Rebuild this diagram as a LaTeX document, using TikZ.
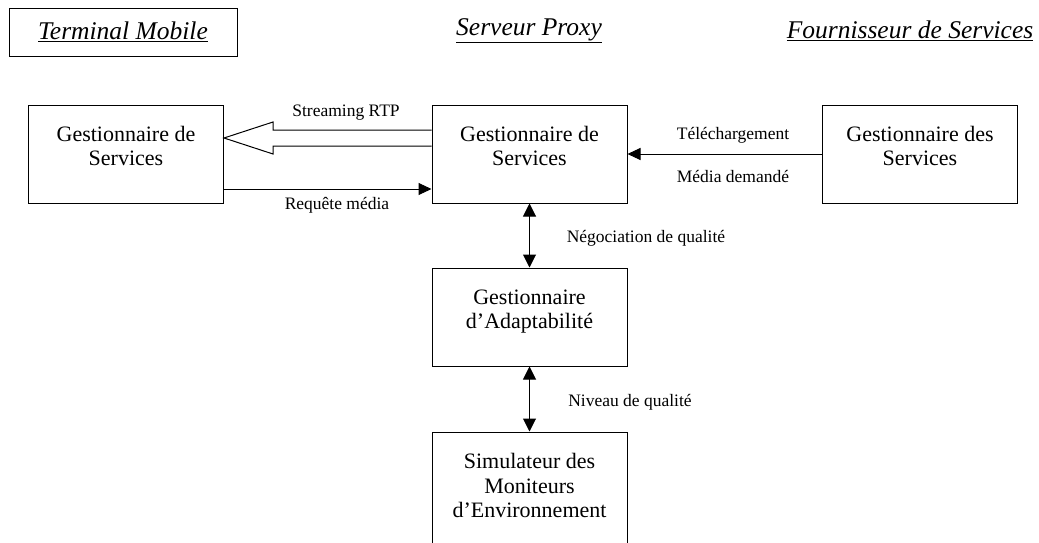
\documentclass[tikz,border=0pt]{standalone}
\usepackage{fontspec}
\setmainfont{Liberation Serif}
\usetikzlibrary{arrows.meta,calc}
\begin{document}
\begin{tikzpicture}[x=1pt,y=-1pt,
  box/.style={draw,line width=1pt,minimum width=195pt,minimum height=98pt,align=center,inner sep=0pt,text depth=16pt,font=\fontsize{22}{24.5}\selectfont},
  hdr/.style={align=center,inner sep=0pt,font=\fontsize{25.5}{30}\selectfont\itshape},
  lbl/.style={inner sep=0pt,font=\fontsize{17.5}{20}\selectfont},
  conn/.style={line width=1pt,-{Triangle[length=13pt,width=12pt]}},
  dconn/.style={line width=1pt,{Triangle[length=13pt,width=13pt]}-{Triangle[length=13pt,width=13pt]}},
  hollow/.style={line width=1pt,line join=miter}]
\useasboundingbox (0,0) rectangle (1039,543);
\clip (0,0) rectangle (1039,543);
% headers
\node[hdr,draw,line width=0.9pt,minimum width=228pt,minimum height=48pt] (h1) at (123,32) {\underline{Terminal Mobile}};
\node[hdr] (h2) at (529,31) {\underline{Serveur Proxy}};
\node[hdr] (h3) at (910,31) {\underline{Fournisseur de Services}};
% boxes
\node[box] (L) at (126,154) {Gestionnaire de\\Services};
\node[box] (C) at (529.5,154) {Gestionnaire de\\Services};
\node[box] (R) at (920,154) {Gestionnaire des\\Services};
\node[box] (A) at (529.5,317) {Gestionnaire\\d’Adaptabilité};
\node[box,minimum height=112pt,text depth=5pt] (S) at (529.5,488) {Simulateur des\\Moniteurs\\d’Environnement};
% hollow streaming arrow
\coordinate (tip) at ($(L.east)+(0,-16)$);
\coordinate (tail) at ($(C.west)+(0,-16)$);
\coordinate (hb) at ($(tip)+(49,0)$);
\draw[hollow] ($(tail)+(0,-8)$) -- ($(hb |- tail)+(0,-8)$) -- ($(hb)+(0,-16)$) -- (tip) -- ($(hb)+(0,16)$) -- ($(hb |- tail)+(0,8)$) -- ($(tail)+(0,8)$);
\node[lbl] (t1) at (346,113) {Streaming RTP};
% requete media
\draw[conn] ($(L.east)+(0,35)$) coordinate (rq1) -- (rq1 -| C.west);
\node[lbl] (t2) at (337,205) {Requête média};
% telechargement
\draw[conn] (R.west) -- (C.east);
\node[lbl] (t3) at (733,135) {Téléchargement};
\node[lbl] (t4) at (733,177) {Média demandé};
% vertical arrows
\draw[dconn] (C.south) -- (A.north);
\node[lbl] (t5) at (646,238) {Négociation de qualité};
\draw[dconn] (A.south) -- (S.north);
\node[lbl] (t6) at (630,402) {Niveau de qualité};
\end{tikzpicture}
\end{document}
